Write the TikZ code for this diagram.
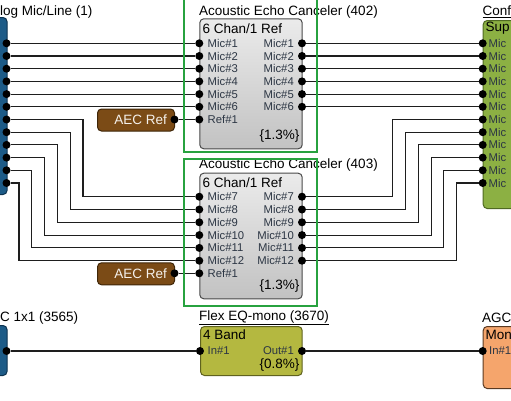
\documentclass[tikz,border=0pt]{standalone}
\usepackage{fontspec}
\setmainfont{Liberation Sans}
\usetikzlibrary{calc}
\definecolor{wireC}{HTML}{1E1E1E}
\definecolor{frameG}{HTML}{27A23F}
\definecolor{blueF}{HTML}{1D5B87}
\definecolor{blueD}{HTML}{0E3350}
\definecolor{brownF}{HTML}{7B4B16}
\definecolor{brownD}{HTML}{3F2608}
\definecolor{grayT}{HTML}{EBEBEB}
\definecolor{grayB}{HTML}{C2C2C2}
\definecolor{grayD}{HTML}{4A4A4A}
\definecolor{confF}{HTML}{8CB043}
\definecolor{confD}{HTML}{4F6A22}
\definecolor{eqF}{HTML}{B4B840}
\definecolor{eqD}{HTML}{5F621E}
\definecolor{agcF}{HTML}{F5A56C}
\definecolor{agcD}{HTML}{5A3A22}
\definecolor{labC}{HTML}{2C3644}
\tikzset{
  ttl/.style={font=\fontsize{13.5}{15}\selectfont, inner sep=0pt, anchor=west},
  plab/.style={font=\fontsize{11.3}{12}\selectfont, text=labC, inner sep=0pt},
  hdr/.style={font=\fontsize{13.5}{15}\selectfont, inner sep=0pt, anchor=west},
  pindot/.style={circle, fill=black, inner sep=0pt, minimum size=8pt},
  wire/.style={draw=wireC, line width=1.1pt},
  frameLine/.style={draw=frameG, line width=2.2pt},
  blk/.style={rectangle, rounded corners=4pt, line width=1pt, inner sep=0pt, anchor=north west},
  blueBlk/.style={blk, fill=blueF, draw=blueD},
  refBlk/.style={blk, fill=brownF, draw=brownD},
  grayBlk/.style={blk, top color=grayT, bottom color=grayB, draw=grayD},
  confBlk/.style={blk, fill=confF, draw=confD},
  eqBlk/.style={blk, fill=eqF, draw=eqD},
  agcBlk/.style={blk, fill=agcF, draw=agcD},
  refTxt/.style={font=\fontsize{13.5}{15}\selectfont, text=white!92!brownF, inner sep=0pt, anchor=east}
}
\begin{document}
\begin{tikzpicture}[x=1pt, y=-1pt]
\clip (0,0) rectangle (511,400);

\node[ttl] (micT) at (0,12) {log Mic/Line (1)};
\node[ttl] (aecAT) at (199,12) {Acoustic Echo Canceler (402)};
\node[ttl] (aecBT) at (199,165.4) {Acoustic Echo Canceler (403)};
\node[ttl] (confT) at (482.5,12) {\underline{Conf}};
\node[ttl] (inT) at (0,318) {C 1x1 (3565)};
\node[ttl] (eqT) at (199,318) {\underline{Flex EQ-mono (3670)}};
\node[ttl] (agcT) at (482,318) {AGC};

\node[blueBlk, minimum width=27pt, minimum height=177pt] (mic) at (-20.5,17) {};
\node[blueBlk, minimum width=27pt, minimum height=50pt] (inB) at (-20.5,325) {};
\node[grayBlk, minimum width=102.4pt, minimum height=130pt] (aecA) at (199.3,18.3) {};
\node[grayBlk, minimum width=102.4pt, minimum height=125.6pt] (aecB) at (199.3,172.7) {};
\node[refBlk, minimum width=77pt, minimum height=22pt] (refA) at (97,108.5) {};
\node[refBlk, minimum width=77pt, minimum height=22pt] (refB) at (97,262.3) {};
\node[confBlk, minimum width=50pt, minimum height=188pt] (conf) at (482.7,20) {};
\node[eqBlk, minimum width=101.7pt, minimum height=49pt] (eq) at (200,326) {};
\node[agcBlk, minimum width=50pt, minimum height=62pt] (agc) at (482.7,326) {};

\node[hdr] (aecAH) at (202.5,28.5) {6 Chan/1 Ref};
\node[hdr] (aecBH) at (202.5,182.5) {6 Chan/1 Ref};
\node[hdr] (confH) at (485.5,28.5) {Sup};
\node[hdr] (eqH) at (203,334.5) {4 Band};
\node[hdr] (agcH) at (485.5,334.5) {Mon};
\node[hdr, anchor=east] (aecAP) at (299.5,136) {\{1.3\%\}};
\node[hdr, anchor=east] (aecBP) at (299.5,286.5) {\{1.3\%\}};
\node[hdr, anchor=east] (eqP) at (299.5,365) {\{0.8\%\}};
\node[refTxt] (refAL) at (167,119.5) {AEC Ref};
\node[refTxt] (refBL) at (167,273.3) {AEC Ref};

\foreach \k in {1,...,12}{
  \node[pindot] (mic\k) at (6.5,{43.3+12.7*(\k-1)}) {};
  \node[pindot] (conf\k) at (482.7,{43.3+12.7*(\k-1)}) {};
  \node[plab, anchor=west] (confL\k) at (488.5,{43.3+12.7*(\k-1)}) {Mic};
}
\foreach \k in {1,...,6}{
  \node[pindot] (aAi\k) at (199.3,{43.3+12.7*(\k-1)}) {};
  \node[pindot] (aAo\k) at (302,{43.3+12.7*(\k-1)}) {};
  \node[plab, anchor=west] (aAiL\k) at (207.5,{43.3+12.7*(\k-1)}) {Mic\#\k};
  \node[plab, anchor=east] (aAoL\k) at (294,{43.3+12.7*(\k-1)}) {Mic\#\k};
}
\foreach \k in {7,...,12}{
  \node[pindot] (aBi\k) at (199.3,{196.7+12.8*(\k-7)}) {};
  \node[pindot] (aBo\k) at (302,{196.7+12.8*(\k-7)}) {};
  \node[plab, anchor=west] (aBiL\k) at (207.5,{196.7+12.8*(\k-7)}) {Mic\#\k};
  \node[plab, anchor=east] (aBoL\k) at (294,{196.7+12.8*(\k-7)}) {Mic\#\k};
}
\node[pindot] (aAr) at (199.3,119.5) {};
\node[pindot] (aBr) at (199.3,273.3) {};
\node[plab, anchor=west] (aArL) at (207.5,119.5) {Ref\#1};
\node[plab, anchor=west] (aBrL) at (207.5,273.3) {Ref\#1};
\node[pindot] (refAp) at (174.5,119.5) {};
\node[pindot] (refBp) at (174.5,273.3) {};

\node[pindot] (inP) at (6.5,351) {};
\node[pindot] (eqI) at (200,351) {};
\node[pindot] (eqO) at (302,351) {};
\node[pindot] (agcI) at (482.7,351) {};
\node[plab, anchor=west] (eqIL) at (207.5,351) {In\#1};
\node[plab, anchor=east] (eqOL) at (294,351) {Out\#1};
\node[plab, anchor=west] (agcIL) at (489,351) {In\#1};

\foreach \k in {1,...,6}{
  \draw[wire] (mic\k) -- (aAi\k);
  \draw[wire] (aAo\k) -- (conf\k);
}
\foreach \k/\bx/\cx in {7/83/392.7, 8/70.2/405.5, 9/57.4/418.3, 10/44.6/431.1, 11/31.8/443.9, 12/19/456.7}{
  \coordinate (bendL\k) at (\bx,0);
  \coordinate (bendR\k) at (\cx,0);
  \draw[wire] (mic\k) -| (bendL\k |- aBi\k) -- (aBi\k);
  \draw[wire] (aBo\k) -| (bendR\k |- conf\k) -- (conf\k);
}
\draw[wire] (refAp) -- (aAr);
\draw[wire] (refBp) -- (aBr);
\draw[wire] (inP) -- (eqI);
\draw[wire] (eqO) -- (agcI);

\draw[frameLine] (184,-5) rectangle (316.7,151.7);
\draw[frameLine] (184,159.3) rectangle (316.7,306);
\end{tikzpicture}
\end{document}
